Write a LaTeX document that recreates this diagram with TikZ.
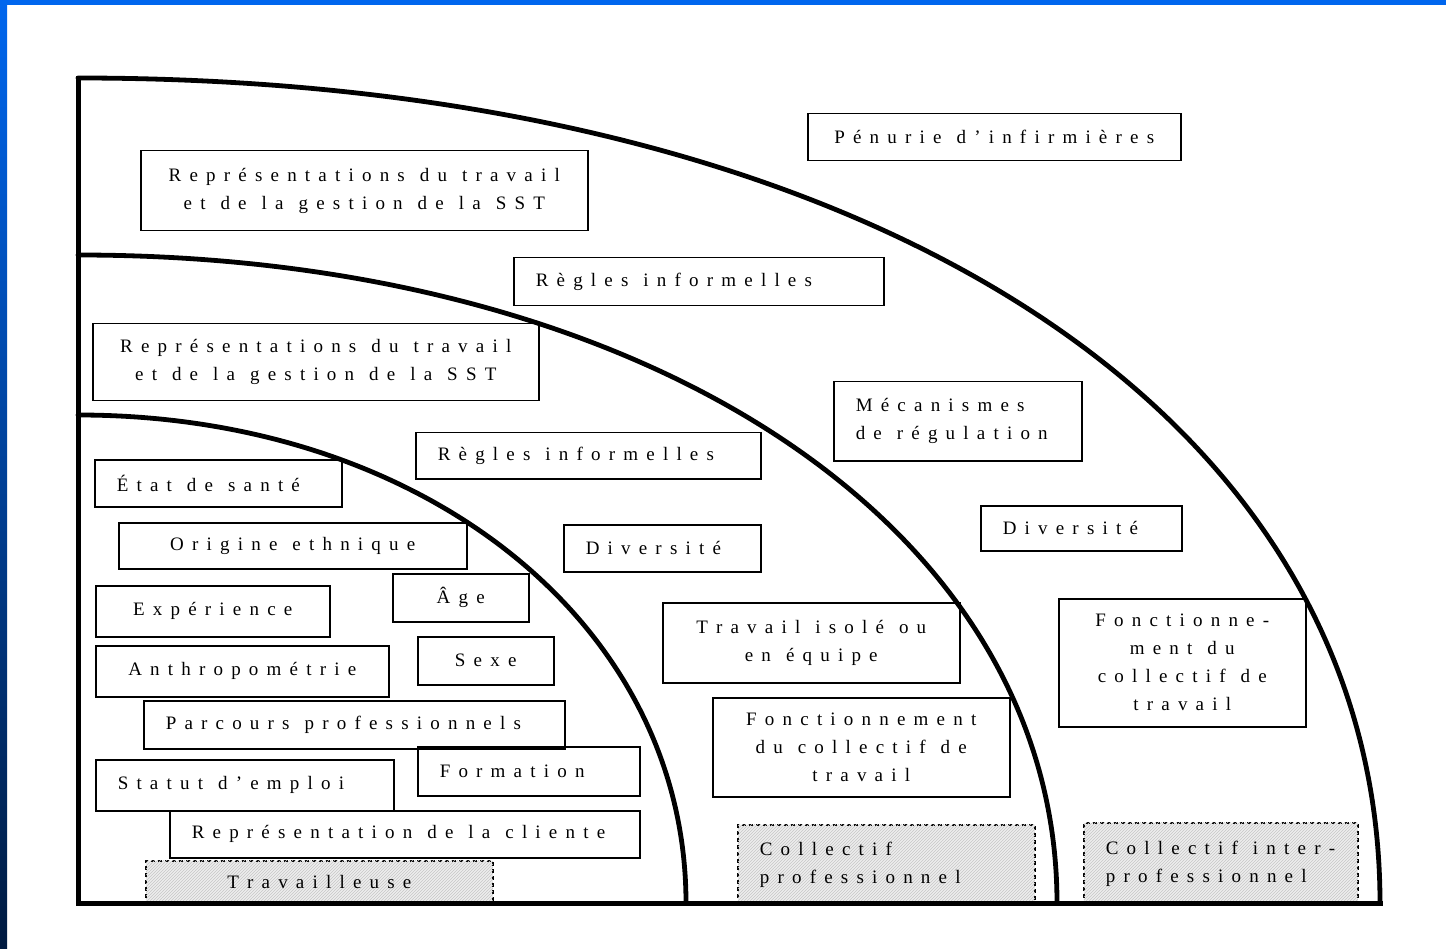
\documentclass[tikz,border=0pt]{standalone}
\usepackage{fontspec}
\setmainfont{Liberation Serif}
\usetikzlibrary{patterns}
\definecolor{slideblue}{RGB}{0,102,238}
\definecolor{slidenavy}{RGB}{0,26,64}
% wide tracking: a kern between every pair of letters
\XeTeXinterchartokenstate=1
\newXeTeXintercharclass\trackclass
\def\settrack#1{\ifx#1\relax\else\XeTeXcharclass`#1=\trackclass\expandafter\settrack\fi}
\settrack abcdefghijklmnopqrstuvwxyzABCDEFGHIJKLMNOPQRSTUVWXYZéèêàâÉÂ’-\relax
\XeTeXinterchartoks\trackclass\trackclass={\kern8.2pt\relax}
% explicit word gap for the tracked labels
\newcommand\wsp{\hspace*{15pt}}
\DeclareRobustCommand\boxfont{\fontsize{19}{28}\selectfont}
\tikzset{
  lab/.style={font=\boxfont},
  cbox/.style={draw, line width=1.5pt, anchor=north west, inner sep=0pt, lab, align=center},
  lbox/.style={draw, line width=1.5pt, anchor=north west, inner ysep=0pt, inner xsep=22pt, lab, align=left},
  shaded/.style={fill=black!7, dash pattern=on 4pt off 3pt, line width=1.7pt,
    postaction={pattern=north east lines, pattern color=black!22}},
  ring/.style={line width=4.8pt, line cap=round},
  frame/.style={line width=5pt, line join=miter}
}
\begin{document}
\begin{tikzpicture}[x=1pt, y=-1pt]
\useasboundingbox (0,0) rectangle (1446,949);
\fill[white] (0,0) rectangle (1446,949);
% slide edge
\fill[slideblue] (0,0) rectangle (1446,5);
\shade[top color=slideblue, bottom color=slidenavy] (0,0) rectangle (7,949);

% three quarter-rings
\draw[ring] (78,78)  .. controls (859,78)  and (1380,408) .. (1380,903);
\draw[ring] (78,255) .. controls (646,255) and (1057,527) .. (1057,903);
\draw[ring] (78,415) .. controls (425,415) and (686,625) .. (686,903);

% outer ring
\node[cbox, minimum width=447pt, minimum height=80pt, text width=447pt] (repO) at (140,150)
  {Représentations\wsp du\wsp travail\\et\wsp de\wsp la\wsp gestion\wsp de\wsp la\wsp SST};
\node[cbox, minimum width=373pt, minimum height=47pt, text width=373pt] (pen) at (807,113)
  {Pénurie\wsp d’infirmières};
\node[lbox, minimum width=370pt, minimum height=48pt, text width=326pt] (regO) at (513,257)
  {Règles\wsp informelles};
\node[lbox, minimum width=248pt, minimum height=79pt, text width=204pt] (mec) at (833,381)
  {Mécanismes\\de\wsp régulation};
\node[lbox, minimum width=201pt, minimum height=45pt, text width=157pt] (divO) at (980,505)
  {Diversité};
\node[cbox, minimum width=247pt, minimum height=128pt, text width=247pt] (fctO) at (1058,598)
  {Fonctionne-\\ment\wsp du\\collectif\wsp de\\travail};
\node[lbox, shaded, minimum width=274pt, minimum height=81pt, text width=230pt] (colI) at (1083,822)
  {Collectif\wsp inter-\\professionnel};

% middle ring
\node[cbox, minimum width=446pt, minimum height=77pt, text width=446pt] (repM) at (92,323)
  {Représentations\wsp du\wsp travail\\et\wsp de\wsp la\wsp gestion\wsp de\wsp la\wsp SST};
\node[lbox, minimum width=345pt, minimum height=46pt, text width=301pt] (regM) at (415,432)
  {Règles\wsp informelles};
\node[lbox, minimum width=197pt, minimum height=47pt, text width=153pt] (divM) at (563,524)
  {Diversité};
\node[cbox, minimum width=297pt, minimum height=80pt, text width=297pt] (trav) at (662,602)
  {Travail\wsp isolé\wsp ou\\en\wsp équipe};
\node[cbox, minimum width=297pt, minimum height=99pt, text width=297pt] (fctM) at (712,697)
  {Fonctionnement\\du\wsp collectif\wsp de\\travail};
\node[lbox, shaded, minimum width=297pt, minimum height=79pt, text width=253pt] (colP) at (737,824)
  {Collectif\\professionnel};

% inner ring
\node[lbox, minimum width=247pt, minimum height=47pt, text width=203pt] (etat) at (94,459)
  {État\wsp de\wsp santé};
\node[cbox, minimum width=348pt, minimum height=46pt, text width=348pt] (orig) at (118,522)
  {Origine\wsp ethnique};
\node[cbox, minimum width=136pt, minimum height=48pt, text width=136pt] (age) at (392,573)
  {Âge};
\node[cbox, minimum width=234pt, minimum height=51pt, text width=234pt] (exp) at (95,585)
  {Expérience};
\node[cbox, minimum width=293pt, minimum height=51pt, text width=293pt] (anth) at (95,645)
  {Anthropométrie};
\node[cbox, minimum width=136pt, minimum height=48pt, text width=136pt] (sexe) at (417,636)
  {Sexe};
\node[lbox, minimum width=421pt, minimum height=48pt, text width=377pt] (parc) at (143,700)
  {Parcours\wsp professionnels};
\node[lbox, minimum width=298pt, minimum height=51pt, text width=254pt] (stat) at (95,759)
  {Statut\wsp d’emploi};
\node[lbox, minimum width=222pt, minimum height=49pt, text width=178pt] (form) at (417,746)
  {Formation};
\node[lbox, minimum width=470pt, minimum height=47pt, text width=426pt] (cli) at (169,810)
  {Représentation\wsp de\wsp la\wsp cliente};
\node[cbox, shaded, minimum width=347pt, minimum height=43pt, text width=347pt] (trv) at (145,860)
  {Travailleuse};

% axes of the quarter-rings
\draw[frame] (78,76) -- (78,903) -- (1383,903);
\end{tikzpicture}
\end{document}
